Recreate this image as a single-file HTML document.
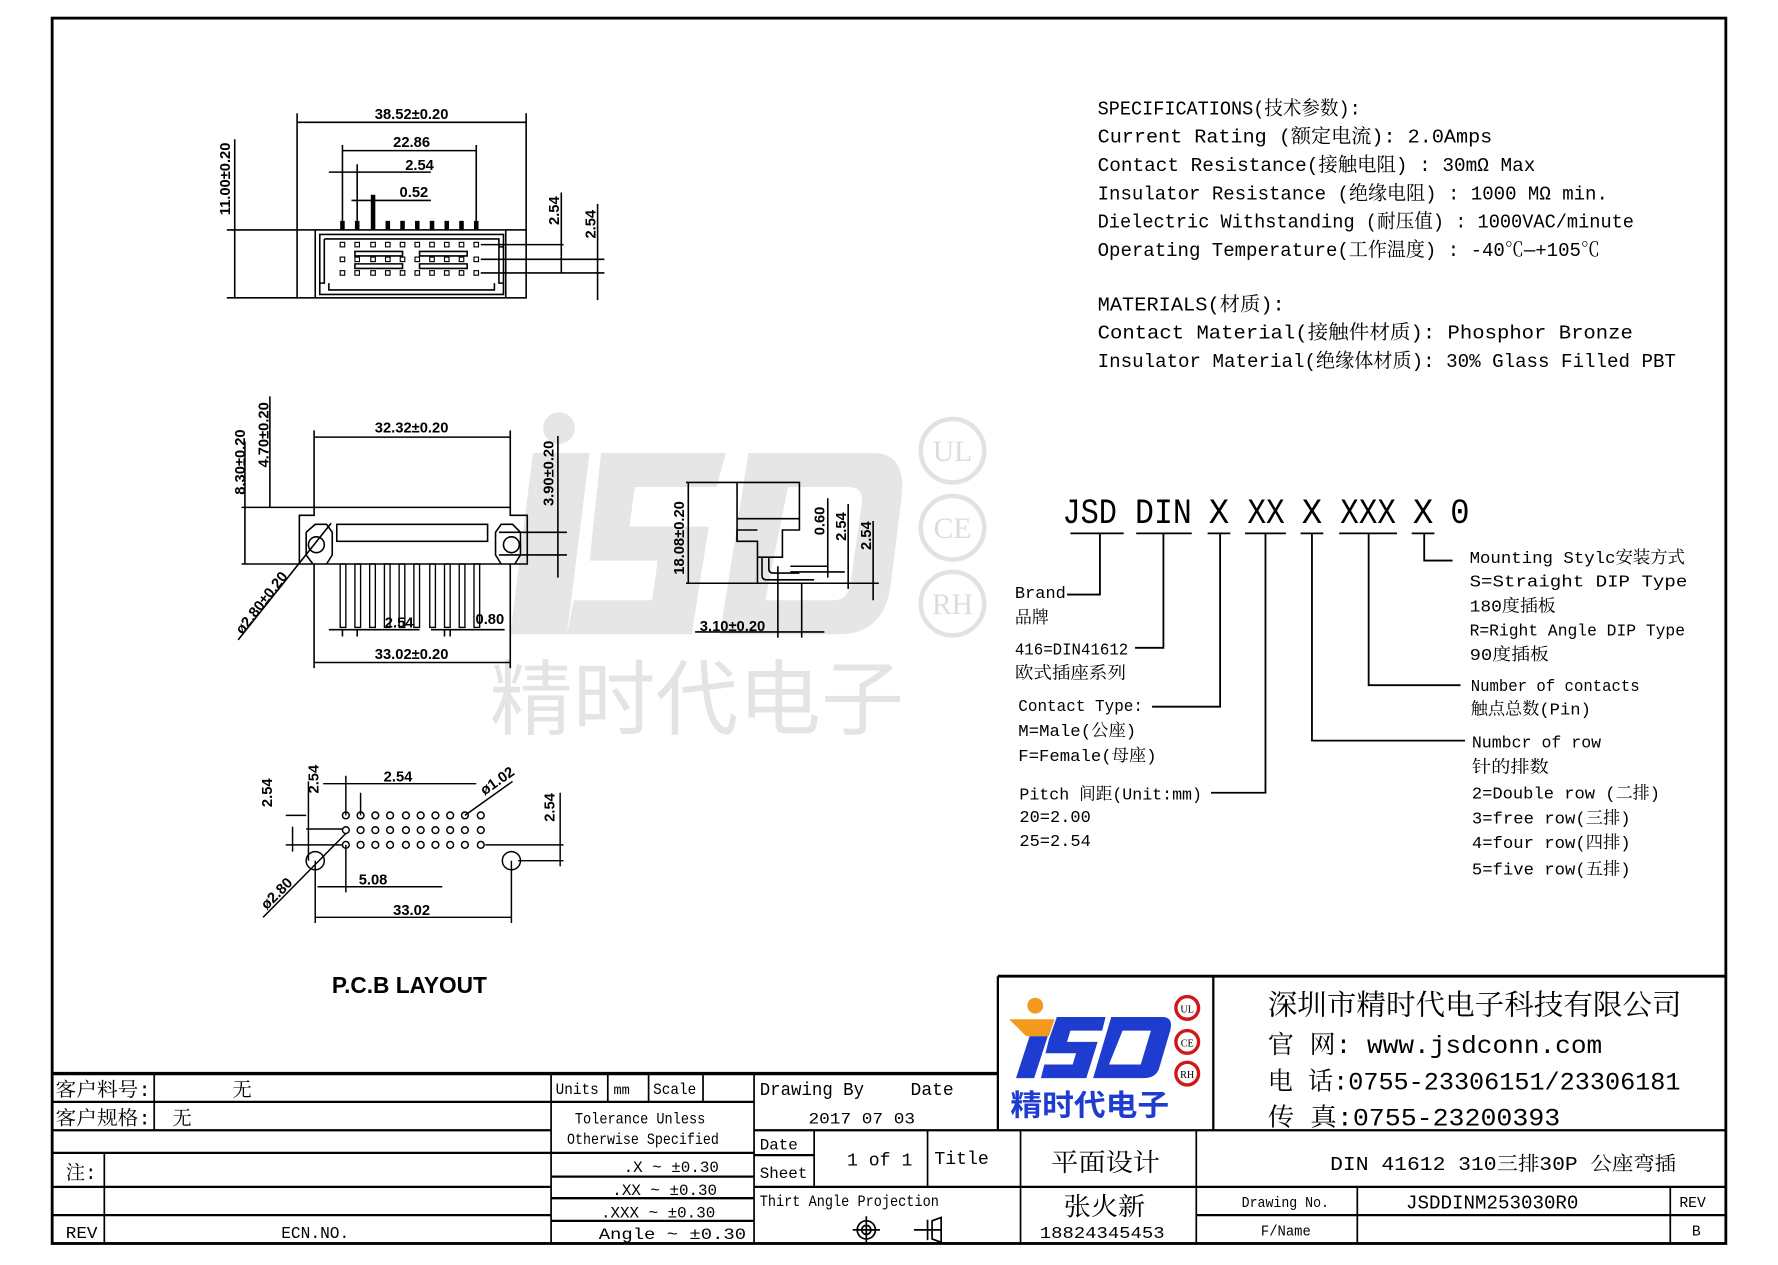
<!DOCTYPE html>
<html><head><meta charset="utf-8"><style>
html,body{margin:0;padding:0;background:#fff;}
svg{display:block;}
.m{font-family:"Liberation Mono","Noto Serif CJK SC",monospace;fill:#000;}
.s{font-family:"Liberation Sans","Noto Sans CJK SC",sans-serif;fill:#000;}
.d{font-family:"Liberation Sans",sans-serif;font-weight:bold;font-size:13px;fill:#000;}
</style></head><body>
<svg width="1778" height="1265" viewBox="0 0 1568 1117" preserveAspectRatio="none" xmlns="http://www.w3.org/2000/svg">
<rect x="0" y="0" width="1568" height="1117" fill="#fff"/>
<!-- watermark -->
<g fill="#e6e6e6">
<path d="M470 400 L520 400 L500 560 L450 560 Z"/>
<path d="M530 400 L640 400 L632 430 L560 430 L555 465 L625 465 L610 560 L500 560 L506 530 L575 530 L580 495 L520 495 Z"/>
<path d="M660 400 L770 400 Q800 400 795 440 L785 520 Q778 560 740 560 L635 560 Z M695 430 L675 530 L735 530 Q748 530 750 515 L760 445 Q762 430 748 430 Z" fill-rule="evenodd"/>
<circle cx="493" cy="378" r="14"/>
</g>
<text x="432" y="643" font-size="72" fill="#e4e4e4" font-family="'Noto Sans CJK SC',sans-serif" textLength="365" lengthAdjust="spacingAndGlyphs">精时代电子</text>
<g fill="none" stroke="#e2e2e2" stroke-width="4">
<circle cx="840" cy="398" r="28"/><circle cx="840" cy="466" r="28"/><circle cx="840" cy="533" r="28"/>
</g>
<g font-family="'Liberation Serif',serif" font-size="26" fill="#dcdcdc" text-anchor="middle">
<text x="840" y="407">UL</text><text x="840" y="475">CE</text><text x="840" y="542">RH</text>
</g>

<!-- border -->
<rect x="46" y="16" width="1476" height="1082" fill="none" stroke="#000" stroke-width="2.5"/>

<!-- Specs -->
<g class="m" font-size="17">
<text x="968" y="101" textLength="232" lengthAdjust="spacingAndGlyphs">SPECIFICATIONS(技术参数):</text>
<text x="968" y="126" textLength="348" lengthAdjust="spacingAndGlyphs">Current Rating (额定电流):   2.0Amps</text>
<text x="968" y="151" textLength="386" lengthAdjust="spacingAndGlyphs">Contact Resistance(接触电阻) : 30mΩ Max</text>
<text x="968" y="176" textLength="450" lengthAdjust="spacingAndGlyphs">Insulator Resistance (绝缘电阻) : 1000 MΩ min.</text>
<text x="968" y="201" textLength="473" lengthAdjust="spacingAndGlyphs">Dielectric Withstanding (耐压值) : 1000VAC/minute</text>
<text x="968" y="226" textLength="443" lengthAdjust="spacingAndGlyphs">Operating Temperature(工作温度) : -40℃—+105℃</text>
<text x="968" y="274" textLength="165" lengthAdjust="spacingAndGlyphs">MATERIALS(材质):</text>
<text x="968" y="299" textLength="472" lengthAdjust="spacingAndGlyphs">Contact Material(接触件材质):    Phosphor Bronze</text>
<text x="968" y="324" textLength="510" lengthAdjust="spacingAndGlyphs">Insulator Material(绝缘体材质): 30% Glass Filled PBT</text>
</g>

<!-- JSD code -->
<g class="m" font-size="31">
<text x="937" y="462" textLength="48" lengthAdjust="spacingAndGlyphs">JSD</text>
<text x="1001" y="462" textLength="50" lengthAdjust="spacingAndGlyphs">DIN</text>
<text x="1066" y="462" textLength="18" lengthAdjust="spacingAndGlyphs">X</text>
<text x="1100" y="462" textLength="33" lengthAdjust="spacingAndGlyphs">XX</text>
<text x="1148" y="462" textLength="18" lengthAdjust="spacingAndGlyphs">X</text>
<text x="1182" y="462" textLength="49" lengthAdjust="spacingAndGlyphs">XXX</text>
<text x="1246" y="462" textLength="18" lengthAdjust="spacingAndGlyphs">X</text>
<text x="1279" y="462" textLength="17" lengthAdjust="spacingAndGlyphs">0</text>
</g>
<g stroke="#000" stroke-width="1.6" fill="none">
<path d="M944 471H991 M1002 471H1051 M1065 471H1085 M1098 471H1134 M1147 471H1167 M1181 471H1232 M1245 471H1265"/>
<path d="M970 471V525H941"/>
<path d="M1026 471V572H1001"/>
<path d="M1076 471V624H1016"/>
<path d="M1116 471V700H1068"/>
<path d="M1157 471V654H1292"/>
<path d="M1207 471V605H1288"/>
<path d="M1256 471V495H1281"/>
</g>
<g class="m" font-size="15">
<text x="895" y="528">Brand</text>
<text x="895" y="550">品牌</text>
<text x="895" y="578" textLength="100" lengthAdjust="spacingAndGlyphs">416=DIN41612</text>
<text x="895" y="599" textLength="98" lengthAdjust="spacingAndGlyphs">欧式插座系列</text>
<text x="898" y="628" textLength="110" lengthAdjust="spacingAndGlyphs">Contact Type:</text>
<text x="898" y="650" textLength="104" lengthAdjust="spacingAndGlyphs">M=Male(公座)</text>
<text x="898" y="672" textLength="122" lengthAdjust="spacingAndGlyphs">F=Female(母座)</text>
<text x="899" y="706" textLength="161" lengthAdjust="spacingAndGlyphs">Pitch 间距(Unit:mm)</text>
<text x="899" y="726">20=2.00</text>
<text x="899" y="747">25=2.54</text>
<text x="1296" y="497" textLength="190" lengthAdjust="spacingAndGlyphs">Mounting Stylc安装方式</text>
<text x="1296" y="518" textLength="192" lengthAdjust="spacingAndGlyphs">S=Straight DIP Type</text>
<text x="1296" y="540" textLength="76" lengthAdjust="spacingAndGlyphs">180度插板</text>
<text x="1296" y="561" textLength="190" lengthAdjust="spacingAndGlyphs">R=Right Angle DIP Type</text>
<text x="1296" y="583" textLength="70" lengthAdjust="spacingAndGlyphs">90度插板</text>
<text x="1297" y="610" textLength="149" lengthAdjust="spacingAndGlyphs">Number of contacts</text>
<text x="1297" y="631" textLength="106" lengthAdjust="spacingAndGlyphs">触点总数(Pin)</text>
<text x="1298" y="660" textLength="114" lengthAdjust="spacingAndGlyphs">Numbcr of row</text>
<text x="1298" y="682" textLength="68" lengthAdjust="spacingAndGlyphs">针的排数</text>
<text x="1298" y="705" textLength="166" lengthAdjust="spacingAndGlyphs">2=Double row (二排)</text>
<text x="1298" y="727" textLength="140" lengthAdjust="spacingAndGlyphs">3=free row(三排)</text>
<text x="1298" y="749" textLength="140" lengthAdjust="spacingAndGlyphs">4=four row(四排)</text>
<text x="1298" y="772" textLength="140" lengthAdjust="spacingAndGlyphs">5=five row(五排)</text>
</g>

<!-- TOP VIEW -->
<g stroke="#000" stroke-width="1.4" fill="none">
<rect x="262" y="203" width="202" height="60"/>
<path d="M278 203V263 M446 203V263"/>
<path d="M282 207H444V260H282Z M286 211H440V218H444 M286 211V250H282 M440 211V250H444 M290 250V256H436V250"/>
<path d="M262 100V203 M464 100V203 M262 108H464"/>
<path d="M302 128V195 M420 128V195 M302 133H420"/>
<path d="M290 152H380 M315 145V195"/>
<path d="M310 177H380"/>
<path d="M200 203H262 M200 263H262 M207 123V263"/>
<path d="M313 222H355V226H313Z M313 233H355V237H313Z M370 222H412V226H370Z M370 233H412V237H370Z"/>
<path d="M424 216H497 M424 229H533 M424 241H533 M495 170V241 M527 180V265"/>
</g>
<g fill="#000">
<rect x="327" y="172" width="4" height="31"/>
<rect x="300" y="195" width="4" height="8"/><rect x="313" y="195" width="4" height="8"/><rect x="340" y="195" width="4" height="8"/><rect x="353" y="195" width="4" height="8"/><rect x="366" y="195" width="4" height="8"/><rect x="379" y="195" width="4" height="8"/><rect x="392" y="195" width="4" height="8"/><rect x="405" y="195" width="4" height="8"/><rect x="418" y="195" width="4" height="8"/>
</g>
<g fill="none" stroke="#000" stroke-width="1">
<g id="sq"><rect x="300" y="214" width="4" height="4"/><rect x="313" y="214" width="4" height="4"/><rect x="327" y="214" width="4" height="4"/><rect x="340" y="214" width="4" height="4"/><rect x="353" y="214" width="4" height="4"/><rect x="366" y="214" width="4" height="4"/><rect x="379" y="214" width="4" height="4"/><rect x="392" y="214" width="4" height="4"/><rect x="405" y="214" width="4" height="4"/><rect x="418" y="214" width="4" height="4"/></g>
<use href="#sq" y="13"/><use href="#sq" y="25"/>
</g>
<g class="d">
<text x="363" y="105" text-anchor="middle">38.52±0.20</text>
<text x="363" y="130" text-anchor="middle">22.86</text>
<text x="370" y="150" text-anchor="middle">2.54</text>
<text x="365" y="174" text-anchor="middle">0.52</text>
<text transform="translate(203,158) rotate(-90)" text-anchor="middle">11.00±0.20</text>
<text transform="translate(493,186) rotate(-90)" text-anchor="middle">2.54</text>
<text transform="translate(525,198) rotate(-90)" text-anchor="middle">2.54</text>
</g>

<!-- FRONT VIEW -->
<g stroke="#000" stroke-width="1.4" fill="none">
<path d="M277 448H450V455H465V498H264V455H277Z"/>
<rect x="297" y="463" width="133" height="15"/>
<path d="M270 470L278 463L288 463L293 470L293 490L288 498M270 470V490L276 498"/>
<path d="M459 470L452 463L442 463L437 470L437 490L442 498M459 470V490L454 498"/>
<circle cx="279" cy="481" r="7"/><circle cx="451" cy="481" r="7"/>
<path d="M277 380V448 M450 380V448 M277 386H450"/>
<path d="M213 448H277 M238 350V448 M213 498H264 M216 390V498"/>
<path d="M440 470H500 M440 490H500 M492 385V510"/>
<path d="M210 565L292 462"/>
<path d="M277 498V590 M450 498V590 M277 585H450"/>
<path d="M302 556V562 M315 556V562 M392 556V562 M397 556V562 M290 556H370 M380 556H445"/>
</g>
<g fill="none" stroke="#000" stroke-width="1.2">
<rect x="300" y="498" width="5" height="56"/><rect x="313" y="498" width="5" height="56"/><rect x="326" y="498" width="5" height="56"/><rect x="339" y="498" width="5" height="56"/><rect x="352" y="498" width="5" height="56"/><rect x="365" y="498" width="5" height="56"/><rect x="379" y="498" width="5" height="56"/><rect x="392" y="498" width="5" height="56"/><rect x="405" y="498" width="5" height="56"/><rect x="418" y="498" width="5" height="56"/>
</g>
<g class="d">
<text x="363" y="382" text-anchor="middle">32.32±0.20</text>
<text x="352" y="554" text-anchor="middle">2.54</text>
<text x="432" y="551" text-anchor="middle">0.80</text>
<text x="363" y="582" text-anchor="middle">33.02±0.20</text>
<text transform="translate(216,408) rotate(-90)" text-anchor="middle">8.30±0.20</text>
<text transform="translate(237,384) rotate(-90)" text-anchor="middle">4.70±0.20</text>
<text transform="translate(488,418) rotate(-90)" text-anchor="middle">3.90±0.20</text>
<text transform="translate(234,535) rotate(-52)" text-anchor="middle">ø2.80±0.20</text>
</g>

<!-- SIDE VIEW -->
<g stroke="#000" stroke-width="1.4" fill="none">
<path d="M650 426H705V458H650Z M650 458V478H668V492H690V468H705V458"/>
<path d="M650 478V468H668"/>
<path d="M668 492V515 M672 492V508Q672 512 676 512H718 M678 492V502Q678 506 682 506H705"/>
<path d="M668 515H720 M605 426H650 M605 515H668 M607 426V515"/>
<path d="M697 500H730 M697 505H745 M708 515H775 M730 440V510 M748 445V520 M770 460V530"/>
<path d="M686 500V563 M707 515V563 M613 558H727"/>
</g>
<g class="d">
<text transform="translate(603,475) rotate(-90)" text-anchor="middle">18.08±0.20</text>
<text transform="translate(727,460) rotate(-90)" text-anchor="middle">0.60</text>
<text transform="translate(746,465) rotate(-90)" text-anchor="middle">2.54</text>
<text transform="translate(768,473) rotate(-90)" text-anchor="middle">2.54</text>
<text x="646" y="557" text-anchor="middle">3.10±0.20</text>
</g>

<!-- PCB LAYOUT -->
<g fill="none" stroke="#000" stroke-width="1.3">
<g id="row"><circle cx="305" cy="720" r="3"/><circle cx="318" cy="720" r="3"/><circle cx="331" cy="720" r="3"/><circle cx="344" cy="720" r="3"/><circle cx="358" cy="720" r="3"/><circle cx="371" cy="720" r="3"/><circle cx="384" cy="720" r="3"/><circle cx="397" cy="720" r="3"/><circle cx="410" cy="720" r="3"/><circle cx="424" cy="720" r="3"/></g>
<use href="#row" y="13"/><use href="#row" y="26"/>
<circle cx="278" cy="760" r="8"/><circle cx="451" cy="760" r="8"/>
<path d="M278 760V815 M451 760V815 M278 810H451"/>
<path d="M305 685V720 M318 700V720 M285 692H420"/>
<path d="M305 746V788 M280 783H390"/>
<path d="M270 732H302 M268 746H302 M272 760V690 M252 720H270 M252 746H270 M258 730V752"/>
<path d="M428 746H497 M457 760H497 M494 700V765"/>
<path d="M232 810L305 736"/>
<path d="M410 720L452 690"/>
</g>
<g class="d">
<text x="351" y="690" text-anchor="middle">2.54</text>
<text x="329" y="781" text-anchor="middle">5.08</text>
<text x="363" y="808" text-anchor="middle">33.02</text>
<text transform="translate(240,700) rotate(-90)" text-anchor="middle">2.54</text>
<text transform="translate(281,688) rotate(-90)" text-anchor="middle">2.54</text>
<text transform="translate(489,713) rotate(-90)" text-anchor="middle">2.54</text>
<text transform="translate(247,792) rotate(-45)" text-anchor="middle">ø2.80</text>
<text transform="translate(441,693) rotate(-35)" text-anchor="middle">ø1.02</text>
</g>
<text x="361" y="877" class="s" font-size="20" font-weight="bold" text-anchor="middle">P.C.B LAYOUT</text>

<!-- TITLE BLOCK -->
<g stroke="#000" fill="none">
<path d="M46 948H880" stroke-width="3"/>
<path d="M880 862H1522" stroke-width="2.5"/>
<path d="M880 862V998 M1070 862V998" stroke-width="2"/>
<path d="M46 973H665 M46 998H486 M46 1018H486 M46 1048H486 M46 1073H486" stroke-width="2"/>
<path d="M486 1018H665 M486 1039H665 M486 1058H665 M486 1078H665" stroke-width="2"/>
<path d="M665 998H1522 M665 1048H1522 M665 1020H718 M1055 1073H1522" stroke-width="2"/>
<path d="M136 948V998 M92 1018V1098 M486 948V1098 M536 948V973 M572 948V973 M620 948V973 M665 948V1098" stroke-width="1.5"/>
<path d="M718 998V1048 M818 998V1048 M900 998V1098 M1055 998V1098 M1197 1048V1098 M1473 1048V1098" stroke-width="1.5"/>
</g>
<g class="m" font-size="15">
<text x="49" y="968" font-size="17" textLength="84" lengthAdjust="spacingAndGlyphs">客户料号:</text>
<text x="205" y="968" font-size="17">无</text>
<text x="49" y="993" font-size="17" textLength="84" lengthAdjust="spacingAndGlyphs">客户规格:</text>
<text x="152" y="993" font-size="17">无</text>
<text x="58" y="1041" font-size="17">注:</text>
<text x="58" y="1093" textLength="28" lengthAdjust="spacingAndGlyphs">REV</text>
<text x="248" y="1093" textLength="60" lengthAdjust="spacingAndGlyphs">ECN.NO.</text>
<text x="490" y="966" font-size="14" textLength="38" lengthAdjust="spacingAndGlyphs">Units</text>
<text x="541" y="966" font-size="12">mm</text>
<text x="576" y="966" font-size="14" textLength="38" lengthAdjust="spacingAndGlyphs">Scale</text>
<text x="507" y="992" font-size="14" textLength="115" lengthAdjust="spacingAndGlyphs">Tolerance Unless</text>
<text x="500" y="1010" font-size="14" textLength="134" lengthAdjust="spacingAndGlyphs">Otherwise Specified</text>
<text x="550" y="1035" font-size="14">.X  ~  ±0.30</text>
<text x="540" y="1055" font-size="14">.XX  ~  ±0.30</text>
<text x="530" y="1075" font-size="14">.XXX  ~  ±0.30</text>
<text x="528" y="1094" font-size="14" textLength="130" lengthAdjust="spacingAndGlyphs">Angle ~  ±0.30</text>
<text x="670" y="967" font-size="16" textLength="92" lengthAdjust="spacingAndGlyphs">Drawing By</text>
<text x="803" y="967" font-size="16" textLength="38" lengthAdjust="spacingAndGlyphs">Date</text>
<text x="713" y="992" font-size="14" textLength="94" lengthAdjust="spacingAndGlyphs">2017  07  03</text>
<text x="670" y="1015" font-size="14">Date</text>
<text x="670" y="1040" font-size="14">Sheet</text>
<text x="747" y="1029" font-size="16">1 of 1</text>
<text x="824" y="1028" font-size="16">Title</text>
<text x="927" y="1034" font-size="22" textLength="96" lengthAdjust="spacingAndGlyphs">平面设计</text>
<text x="1173" y="1033" font-size="17" textLength="305" lengthAdjust="spacingAndGlyphs">DIN  41612 310三排30P 公座弯插</text>
<text x="670" y="1065" font-size="14" textLength="158" lengthAdjust="spacingAndGlyphs">Thirt Angle Projection</text>
<text x="938" y="1073" font-size="22" textLength="72" lengthAdjust="spacingAndGlyphs">张火新</text>
<text x="917" y="1093" font-size="15" textLength="110" lengthAdjust="spacingAndGlyphs">18824345453</text>
<text x="1095" y="1066" font-size="13" textLength="77" lengthAdjust="spacingAndGlyphs">Drawing No.</text>
<text x="1240" y="1067" font-size="17" textLength="152" lengthAdjust="spacingAndGlyphs">JSDDINM253030R0</text>
<text x="1481" y="1066" font-size="13">REV</text>
<text x="1112" y="1091" font-size="13" textLength="44" lengthAdjust="spacingAndGlyphs">F/Name</text>
<text x="1492" y="1091" font-size="13">B</text>
</g>
<!-- projection symbol -->
<g stroke="#000" stroke-width="1.5" fill="none">
<circle cx="764" cy="1086" r="8"/><circle cx="764" cy="1086" r="4"/>
<path d="M752 1086H776 M764 1074V1098"/>
<path d="M806 1086H830 M818 1077V1095 M822 1078L830 1075V1097L822 1094Z"/>
</g>
<!-- logo -->
<circle cx="913" cy="888" r="7" fill="#f39a1e"/>
<path d="M890 900L930 900L925 915L905 915Z" fill="#f39a1e"/>
<path d="M908 915L924 915L912 952L896 952Z" fill="#1e3ccf"/>
<path d="M932 898H975L972 910H944L941 920H968L958 952H918L921 940H946L949 930H922L925 918Z" fill="#1e3ccf"/>
<path d="M980 898H1025Q1035 898 1032 910L1022 944Q1019 952 1008 952H964Z M990 910L978 940H1006L1015 910Z" fill="#1e3ccf" fill-rule="evenodd"/>
<text x="891" y="985" font-size="26" fill="#1e3ccf" font-weight="bold" font-family="'Noto Sans CJK SC',sans-serif" textLength="140" lengthAdjust="spacingAndGlyphs">精时代电子</text>
<g fill="#fff" stroke="#d01818" stroke-width="3">
<circle cx="1047" cy="890" r="10"/><circle cx="1047" cy="920" r="10"/><circle cx="1047" cy="948" r="10"/>
</g>
<g font-family="'Liberation Serif',serif" font-size="9" text-anchor="middle" fill="#000">
<text x="1047" y="894">UL</text><text x="1047" y="924">CE</text><text x="1047" y="952">RH</text>
</g>
<g class="m">
<text x="1118" y="896" font-size="25" textLength="365" lengthAdjust="spacingAndGlyphs">深圳市精时代电子科技有限公司</text>
<text x="1118" y="930" font-size="22" textLength="295" lengthAdjust="spacingAndGlyphs">官   网: www.jsdconn.com</text>
<text x="1118" y="962" font-size="22" textLength="364" lengthAdjust="spacingAndGlyphs">电   话:0755-23306151/23306181</text>
<text x="1118" y="994" font-size="22" textLength="258" lengthAdjust="spacingAndGlyphs">传   真:0755-23200393</text>
</g>
</svg>
</body></html>
